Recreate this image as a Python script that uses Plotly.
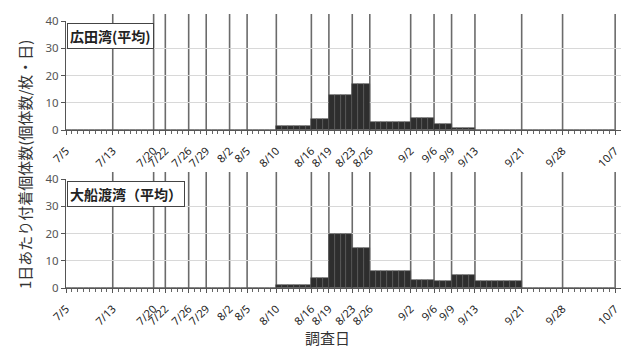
import datetime as dt
import plotly.graph_objects as go

# ---- data ----
sample_dates = ["7/5", "7/13", "7/20", "7/22", "7/26", "7/29", "8/2", "8/5", "8/10",
                "8/16", "8/19", "8/23", "8/26", "9/2", "9/6", "9/9", "9/13", "9/21",
                "9/28", "10/7"]
# mean daily settlement for each interval ending at sample_dates[1:]
hirota_avg = [0, 0, 0, 0, 0, 0, 0, 0, 1.5, 3.9, 12.9, 16.8, 3.1, 4.3, 2.2, 0.9, 0, 0, 0]
ofunato_avg = [0, 0, 0, 0, 0, 0, 0, 0, 1.2, 3.6, 19.8, 14.8, 6.1, 2.9, 2.6, 4.7, 2.5, 0, 0]
panel_titles = ["広田湾(平均)", "大船渡湾（平均）"]
y_ticks = [0, 10, 20, 30, 40]

# ---- derive day offsets ----
def to_day(s):
    m, d = map(int, s.split("/"))
    return (dt.date(2012, m, d) - dt.date(2012, 7, 5)).days

days = [to_day(s) for s in sample_dates]
n_days = days[-1]

def daily(vals):
    out = []
    for i in range(n_days):
        for k in range(len(days) - 1):
            if days[k] <= i < days[k + 1]:
                out.append(vals[k])
                break
    return out

W, H = 625, 349
def px_y(p):
    return 1 - p / H

x_dom = [66 / W, 621 / W]
panels = [
    dict(top=21, bot=130, line_top=14, vals=hirota_avg),
    dict(top=179, bot=288, line_top=172, vals=ofunato_avg),
]

fig = go.Figure()
shapes = []
annotations = []
for k, p in enumerate(panels):
    xa = "x" if k == 0 else "x2"
    ya = "y" if k == 0 else "y2"
    fig.add_trace(go.Bar(
        x=[i + 0.5 for i in range(n_days)], y=daily(p["vals"]),
        width=1, xaxis=xa, yaxis=ya,
        marker=dict(color="#2e2e2e", line=dict(color="#5a5a5a", width=0.6)),
        showlegend=False, hoverinfo="skip"))
    for d in days[1:]:
        shapes.append(dict(type="line", xref=xa, yref="paper", x0=d, x1=d,
                           y0=px_y(p["bot"]), y1=px_y(p["line_top"]),
                           line=dict(color="#6b6b6b", width=1.6), layer="below"))
    annotations.append(dict(
        text="<b>" + panel_titles[k] + "</b>", xref="paper", yref="paper",
        x=67 / W, y=px_y(p["top"] + 2), xanchor="left", yanchor="top",
        showarrow=False, align="left",
        font=dict(family="Noto Sans CJK JP", size=14, color="#222"),
        bordercolor="#444", borderwidth=1, borderpad=2, bgcolor="white"))

axis_common = dict(
    range=[0, 95], tickmode="array", tickvals=days, ticktext=sample_dates,
    tickangle=-45, ticks="outside", ticklen=4, tickcolor="#555",
    ticklabelstandoff=5,
    showgrid=False, showline=True, linecolor="#555", linewidth=1.2,
    tickfont=dict(family="Noto Sans", size=11, color="#222"),
    minor=dict(tickmode="array", tickvals=list(range(n_days + 1)),
               ticks="outside", ticklen=3, tickcolor="#666", showgrid=False),
    zeroline=False, fixedrange=True, automargin=False, domain=x_dom)
yaxis_common = dict(
    range=[0, 40], tickvals=y_ticks, showgrid=True, gridcolor="#d8d8d8",
    gridwidth=1, showline=True, linecolor="#555", linewidth=1.2,
    ticks="outside", ticklen=4, tickcolor="#555",
    tickfont=dict(family="Noto Sans", size=11.5, color="#555"),
    zeroline=False, automargin=False, fixedrange=True)

fig.update_layout(
    xaxis=dict(axis_common, anchor="y"),
    xaxis2=dict(axis_common, anchor="y2"),
    yaxis=dict(yaxis_common, anchor="x",
               domain=[px_y(panels[0]["bot"]), px_y(panels[0]["top"])]),
    yaxis2=dict(yaxis_common, anchor="x2",
                domain=[px_y(panels[1]["bot"]), px_y(panels[1]["top"])]),
    bargap=0, width=W, height=H,
    margin=dict(l=0, r=0, t=0, b=0),
    plot_bgcolor="white", paper_bgcolor="white",
    shapes=shapes,
    annotations=annotations + [
        dict(text="1日あたり付着個体数(個体数/枚・日)", xref="paper", yref="paper",
             x=25 / W, y=px_y(165), xanchor="center", yanchor="middle",
             textangle=-90, showarrow=False,
             font=dict(family="Noto Sans CJK JP", size=15, color="#333")),
        dict(text="調査日", xref="paper", yref="paper",
             x=327 / W, y=px_y(337), xanchor="center", yanchor="middle",
             showarrow=False,
             font=dict(family="Noto Sans CJK JP", size=15, color="#333")),
    ],
)

fig.write_html("out.html", config={"displayModeBar": False},
               post_script="document.body.style.margin='0';document.body.style.overflow='hidden';")
